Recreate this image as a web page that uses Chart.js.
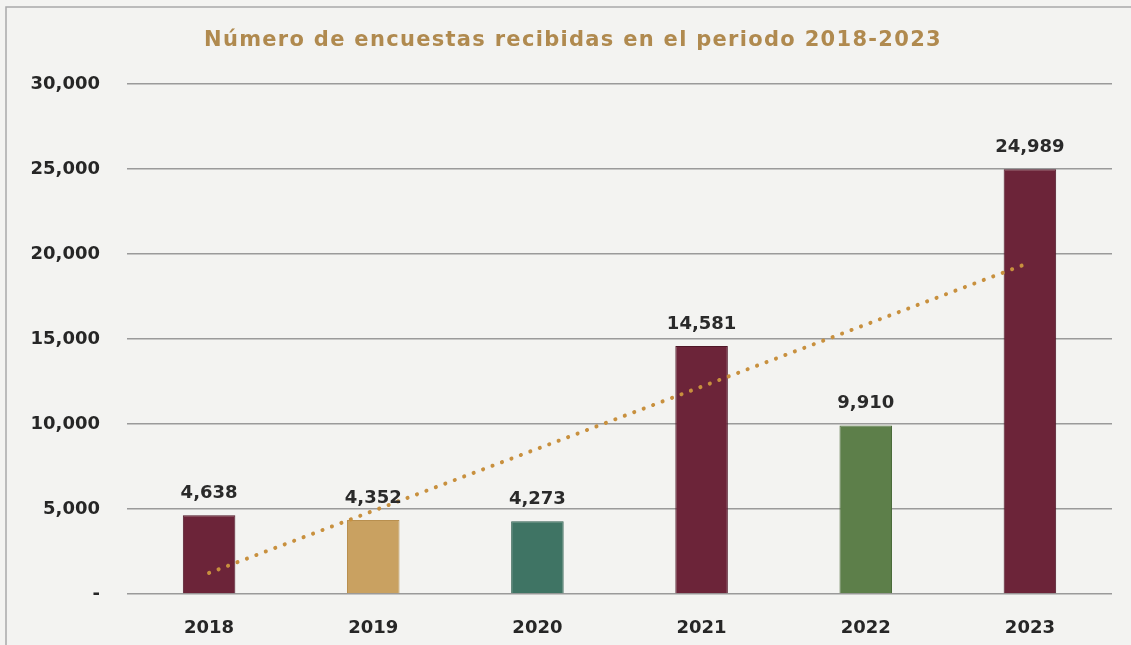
<!DOCTYPE html>
<html lang="es">
<head>
<meta charset="utf-8">
<title>Número de encuestas recibidas en el periodo 2018-2023</title>
<script src="https://cdn.jsdelivr.net/npm/chart.js@4.4.1/dist/chart.umd.min.js"></script>
<style>
  html, body { margin: 0; padding: 0; background: #f3f3f1; overflow: hidden; }
  #wrap { width: 1131px; height: 645px; position: relative; }
</style>
</head>
<body>
<div id="wrap"><canvas id="chart" width="1131" height="645"></canvas></div>
<script>
// Years on the category axis
const years = ['2018', '2019', '2020', '2021', '2022', '2023'];
// Surveys received per year
const surveys = [4638, 4352, 4273, 14581, 9910, 24989];
// Linear trend line, start (2018) and end (2023) values
const trendYears = ['2018', '2023'];
const trendValues = [1240, 19500];
// Value-axis ticks
const yTicks = [0, 5000, 10000, 15000, 20000, 25000, 30000];

const chartTitle = 'Número de encuestas recibidas en el periodo 2018-2023';
const barColors = ['#6c2439', '#c9a161', '#3f7464', '#6c2439', '#5d7f4a', '#6c2439'];
const barEdges = ['#4e1627', '#b88f4f', '#2f5f50', '#4e1627', '#4b6b3a', '#4e1627'];
const FONT = '"DejaVu Sans", sans-serif';
const fmt = v => v.toLocaleString('en-US');

const trendData = years.map(y => {
  const i = trendYears.indexOf(y);
  return i >= 0 ? trendValues[i] : null;
});

// Paper background, frame lines and the title
const backdrop = {
  id: 'backdrop',
  beforeDraw(chart) {
    const ctx = chart.ctx;
    ctx.save();
    ctx.fillStyle = '#f3f3f1';
    ctx.fillRect(0, 0, chart.width, chart.height);
    ctx.strokeStyle = '#a9a9a9';
    ctx.lineWidth = 1.5;
    ctx.beginPath();
    ctx.moveTo(6, chart.height);
    ctx.lineTo(6, 7);
    ctx.lineTo(chart.width, 7);
    ctx.stroke();
    ctx.restore();
  },
  afterDraw(chart) {
    const ctx = chart.ctx;
    ctx.save();
    ctx.font = 'bold 21px ' + FONT;
    ctx.letterSpacing = '1.3px';
    ctx.fillStyle = '#b08a4f';
    ctx.textAlign = 'center';
    ctx.textBaseline = 'middle';
    ctx.fillText(chartTitle, 573, 41);
    ctx.restore();
  }
};

// Value labels above each bar
const barLabels = {
  id: 'barLabels',
  afterDatasetsDraw(chart) {
    const meta = chart.getDatasetMeta(0);
    const ctx = chart.ctx;
    ctx.save();
    ctx.font = 'bold 18px ' + FONT;
    ctx.fillStyle = '#2a2a2a';
    ctx.textAlign = 'center';
    ctx.textBaseline = 'middle';
    meta.data.forEach((bar, i) => {
      ctx.fillText(fmt(surveys[i]), bar.x, bar.y - 22);
    });
    ctx.restore();
  }
};

new Chart(document.getElementById('chart'), {
  data: {
    labels: years,
    datasets: [
      {
        type: 'bar',
        data: surveys,
        backgroundColor: barColors,
        borderColor: barEdges,
        borderWidth: 1,
        categoryPercentage: 1,
        barPercentage: 0.32,
        order: 2
      },
      {
        type: 'line',
        data: trendData,
        spanGaps: true,
        borderColor: '#c8903e',
        borderWidth: 4,
        borderDash: [0.1, 10],
        borderCapStyle: 'round',
        pointRadius: 0,
        tension: 0,
        order: 1
      }
    ]
  },
  options: {
    responsive: false,
    animation: false,
    layout: { padding: { top: 84, right: 19, bottom: 0, left: 0 } },
    plugins: {
      legend: { display: false },
      tooltip: { enabled: false }
    },
    scales: {
      x: {
        grid: { display: false },
        border: { display: false },
        ticks: {
          color: '#262626',
          font: { family: FONT, size: 18, weight: 'bold' },
          padding: 16
        },
        afterFit(scale) { scale.height = 51; }
      },
      y: {
        min: 0,
        max: 30000,
        afterBuildTicks(scale) { scale.ticks = yTicks.map(v => ({ value: v })); },
        grid: { color: '#9a9a9a', lineWidth: 1.5, drawTicks: false },
        border: { display: false },
        ticks: {
          color: '#262626',
          font: { family: FONT, size: 18, weight: 'bold' },
          padding: 27,
          callback: v => v === 0 ? '-' : fmt(v)
        },
        afterFit(scale) { scale.width = 127; }
      }
    }
  },
  plugins: [backdrop, barLabels]
});
</script>
</body>
</html>
